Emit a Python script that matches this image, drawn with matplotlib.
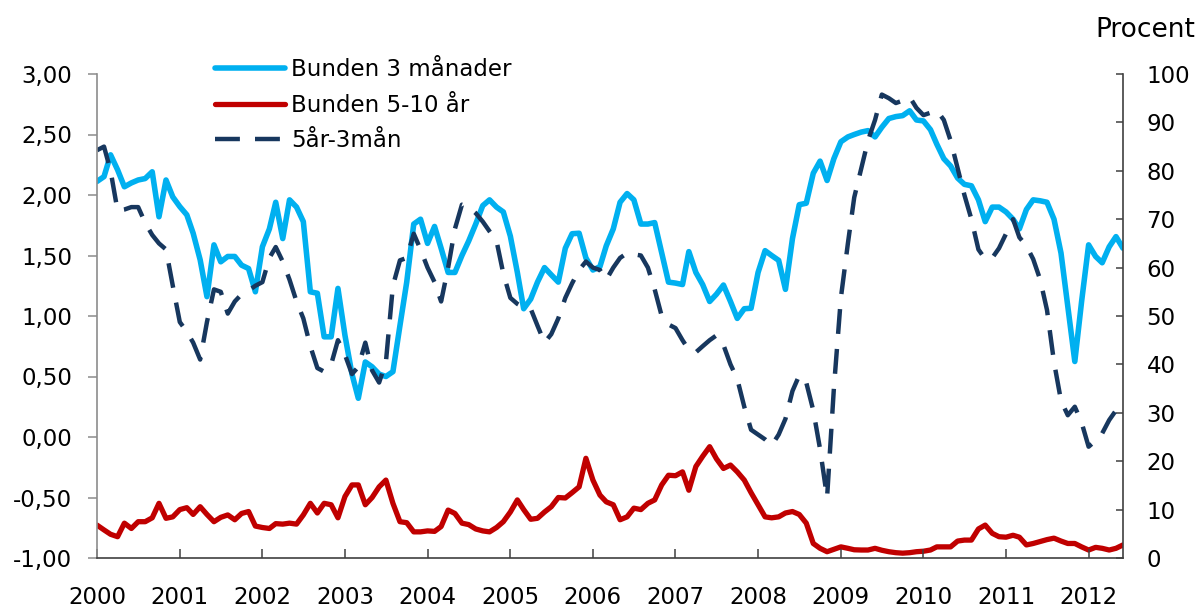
import matplotlib
matplotlib.use("Agg")
import matplotlib.pyplot as plt
import matplotlib.dates as mdates
from matplotlib.ticker import FixedLocator, FuncFormatter
import pandas as pd

# ---------------- data (monthly, Jan 2000 - Jun 2012) ----------------
start_month = "2000-01-01"
n_months = 150

# Share of new loans with 3-month fixed rate (percent, right axis)
bunden_3man = [
    77.8, 78.8, 83.3, 80.2, 76.7, 77.5, 78.1, 78.4, 79.8, 70.5, 78.1, 74.6,
    72.6, 70.9, 67.1, 61.6, 54.0, 64.7, 61.2, 62.3, 62.3, 60.5, 59.8, 55.0,
    64.3, 68.0, 73.5, 66.0, 74.0, 72.5, 69.5, 55.0, 54.7, 45.7, 45.7, 55.7,
    46.0, 38.0, 33.0, 40.5, 39.5, 38.0, 37.5, 38.5, 48.0, 57.0, 69.0, 70.0,
    65.0, 68.5, 64.0, 59.0, 59.0, 62.5, 65.5, 69.0, 72.8, 74.0, 72.5, 71.5,
    66.5, 59.0, 51.5, 53.5, 57.0, 60.0, 58.5, 57.0, 64.0, 67.0, 67.1, 62.0,
    59.5, 60.2, 64.5, 68.0, 73.5, 75.3, 74.0, 69.0, 69.0, 69.3, 63.0, 57.0,
    56.8, 56.5, 63.3, 59.0, 56.5, 53.0, 54.5, 56.4, 53.0, 49.5, 51.5, 51.6,
    59.0, 63.5, 62.5, 61.5, 55.5, 66.0, 73.0, 73.3, 79.5, 82.0, 78.0, 82.5,
    86.0, 87.0, 87.5, 88.0, 88.3, 87.0, 89.0, 90.8, 91.2, 91.4, 92.4, 90.5,
    90.3, 88.5, 85.5, 82.5, 81.0, 78.5, 77.2, 76.9, 74.0, 69.5, 72.5, 72.5,
    71.5, 70.0, 68.0, 72.0, 74.0, 73.8, 73.5, 70.0, 63.0, 52.0, 40.6, 53.0,
    64.7, 62.3, 61.0, 64.3, 66.4, 64.0,
]

# Share of new loans with 5-10 year fixed rate (percent, right axis)
bunden_5_10ar = [
    6.8, 5.8, 4.9, 4.4, 7.2, 6.1, 7.5, 7.5, 8.3, 11.3, 8.2, 8.5,
    10.0, 10.4, 9.0, 10.6, 9.0, 7.5, 8.4, 8.9, 7.9, 9.2, 9.6, 6.6,
    6.3, 6.1, 7.1, 7.0, 7.2, 7.0, 8.9, 11.3, 9.3, 11.3, 11.0, 8.3,
    12.7, 15.1, 15.1, 11.0, 12.5, 14.7, 16.1, 11.3, 7.5, 7.3, 5.4, 5.4,
    5.6, 5.5, 6.5, 9.9, 9.2, 7.2, 6.9, 6.0, 5.6, 5.4, 6.3, 7.5,
    9.5, 12.0, 10.0, 8.0, 8.2, 9.5, 10.6, 12.5, 12.4, 13.5, 14.7, 20.6,
    16.1, 13.0, 11.6, 11.0, 7.9, 8.5, 10.3, 10.0, 11.3, 12.0, 15.1, 17.1,
    17.0, 17.8, 14.0, 18.9, 21.0, 23.0, 20.5, 18.5, 19.2, 17.8, 16.1, 13.5,
    11.0, 8.5, 8.3, 8.5, 9.3, 9.6, 9.0, 7.2, 3.0, 2.0, 1.3, 1.8,
    2.3, 2.0, 1.7, 1.65, 1.65, 2.0, 1.6, 1.3, 1.1, 1.0, 1.1, 1.3,
    1.4, 1.65, 2.3, 2.3, 2.3, 3.5, 3.7, 3.7, 6.0, 6.8, 5.1, 4.4,
    4.3, 4.7, 4.3, 2.7, 3.0, 3.4, 3.8, 4.1, 3.5, 3.0, 3.0, 2.3,
    1.65, 2.2, 2.0, 1.65, 2.0, 2.7,
]

# Spread 5-year minus 3-month mortgage rate (percentage points, left axis)
spread_5ar_3man = [
    2.37, 2.40, 2.20, 1.87, 1.88, 1.90, 1.90, 1.77, 1.67, 1.60, 1.55, 1.25,
    0.95, 0.87, 0.78, 0.64, 0.95, 1.22, 1.20, 1.02, 1.12, 1.18, 1.21, 1.25,
    1.28, 1.48, 1.57, 1.45, 1.30, 1.12, 0.98, 0.75, 0.57, 0.54, 0.60, 0.80,
    0.68, 0.52, 0.58, 0.78, 0.55, 0.45, 0.62, 1.25, 1.46, 1.48, 1.68, 1.55,
    1.40, 1.28, 1.12, 1.40, 1.72, 1.92, 1.90, 1.85, 1.78, 1.70, 1.62, 1.35,
    1.15, 1.10, 1.07, 1.06, 0.92, 0.78, 0.85, 0.98, 1.15, 1.27, 1.38, 1.45,
    1.40, 1.38, 1.30, 1.40, 1.48, 1.52, 1.51, 1.50, 1.40, 1.22, 1.00, 0.93,
    0.90, 0.80, 0.72, 0.70, 0.75, 0.80, 0.84, 0.76, 0.60, 0.48, 0.25, 0.06,
    0.02, -0.02, -0.07, 0.02, 0.15, 0.38, 0.51, 0.45, 0.22, -0.10, -0.50, 0.40,
    1.15, 1.60, 1.98, 2.22, 2.45, 2.62, 2.83, 2.80, 2.76, 2.78, 2.81, 2.72,
    2.66, 2.68, 2.70, 2.62, 2.45, 2.22, 2.00, 1.80, 1.55, 1.47, 1.48, 1.56,
    1.68, 1.80, 1.65, 1.58, 1.47, 1.30, 1.05, 0.62, 0.30, 0.18, 0.25, 0.12,
    -0.08, -0.03, 0.03, 0.14, 0.22, 0.20,
]

labels = ["Bunden 3 månader", "Bunden 5-10 år", "5år-3mån"]
left_ticks = [-1.0, -0.5, 0.0, 0.5, 1.0, 1.5, 2.0, 2.5, 3.0]
right_ticks = [0, 10, 20, 30, 40, 50, 60, 70, 80, 90, 100]

dates = pd.date_range(start_month, periods=n_months, freq="MS")

# ---------------- styling ----------------
FONT = "DejaVu Sans"
FS = 16.5
plt.rcParams["font.family"] = [FONT]
plt.rcParams["font.size"] = FS

C_BLUE = "#00B0F0"
C_RED = "#C00000"
C_NAVY = "#17375E"

W, H, DPI = 1199, 607, 100
fig = plt.figure(figsize=(W / DPI, H / DPI), dpi=DPI)
ax = fig.add_axes([97 / W, 1 - 558 / H, (1123 - 97) / W, (558 - 74) / H])
ax2 = ax.twinx()

ax.set_zorder(ax2.get_zorder() + 1)
ax.patch.set_visible(False)

l_blue, = ax2.plot(dates, bunden_3man, color=C_BLUE, lw=4.0, solid_joinstyle="round",
                   solid_capstyle="round", label=labels[0])
l_red, = ax2.plot(dates, bunden_5_10ar, color=C_RED, lw=3.8, solid_joinstyle="round",
                  solid_capstyle="round", label=labels[1])
l_dash, = ax.plot(dates, spread_5ar_3man, color=C_NAVY, lw=3.2,
                  linestyle=(0, (5.6, 3.4)), dash_capstyle="butt", label=labels[2])

ax.set_xlim(dates[0], dates[-1])
ax.set_ylim(-1, 3)
ax2.set_ylim(0, 100)

ax.yaxis.set_major_locator(FixedLocator(left_ticks))
ax.yaxis.set_major_formatter(FuncFormatter(lambda v, p: f"{v:.2f}".replace(".", ",")))
ax2.yaxis.set_major_locator(FixedLocator(right_ticks))
ax2.yaxis.set_major_formatter(FuncFormatter(lambda v, p: f"{v:.0f}"))

ax.xaxis.set_major_locator(mdates.YearLocator())
ax.xaxis.set_major_formatter(mdates.DateFormatter("%Y"))

for a in (ax, ax2):
    a.spines["top"].set_visible(False)

ax.spines["left"].set_color("#8C8C8C")
ax.spines["bottom"].set_color("#404040")
ax.spines["right"].set_visible(False)
ax2.spines["left"].set_visible(False)
ax2.spines["bottom"].set_visible(False)
ax2.spines["right"].set_color("#404040")
for s in ("left", "bottom"):
    ax.spines[s].set_linewidth(1.2)
ax2.spines["right"].set_linewidth(1.2)

ax.tick_params(axis="y", direction="out", length=6.5, width=1.1, color="#8C8C8C",
               pad=11.5, labelsize=FS, labelcolor="black")
ax.tick_params(axis="x", direction="in", length=6.7, width=1.1, color="#404040",
               pad=20, labelsize=FS, labelcolor="black")
ax2.tick_params(axis="y", direction="in", length=5, width=1.1, color="#404040",
                pad=17, labelsize=FS, labelcolor="black")

fig.text(1195 / W, 1 - 37 / H, "Procent", ha="right", va="baseline", fontsize=19)

fig.legend(handles=[l_blue, l_red, l_dash], labels=labels, loc="upper left",
           bbox_to_anchor=(215 / W, 1 - 58 / H), frameon=False, fontsize=FS,
           handlelength=3.04, handletextpad=0.29, labelspacing=0.55,
           borderpad=0, borderaxespad=0)

fig.savefig("out.png", dpi=DPI)
